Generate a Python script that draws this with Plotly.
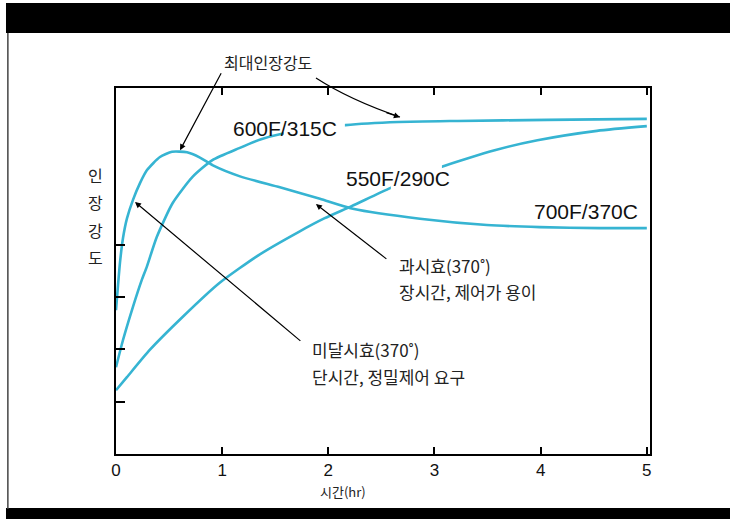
import plotly.graph_objects as go

# Aging time (hr) and relative tensile strength for each aging temperature
t_700 = [0, 0.019, 0.038, 0.066, 0.104, 0.160, 0.226, 0.292, 0.414, 0.527, 0.669,
         0.791, 0.913, 1.168, 1.544, 1.921, 2.232, 2.863, 3.494, 3.992, 4.557, 5.0]
s_700 = [2.75, 3.23, 3.67, 4.13, 4.51, 4.86, 5.18, 5.43, 5.68, 5.78, 5.77,
         5.67, 5.52, 5.31, 5.10, 4.88, 4.69, 4.50, 4.38, 4.34, 4.32, 4.32]

t_600 = [0, 0.066, 0.159, 0.243, 0.290, 0.384, 0.534, 0.721, 0.908, 1.161, 1.367,
         1.554, 2.163, 2.66, 3.22, 4.06, 5.0]
s_600 = [1.66, 2.18, 2.81, 3.33, 3.58, 4.15, 4.80, 5.30, 5.62, 5.85, 6.02,
         6.12, 6.29, 6.35, 6.37, 6.39, 6.41]

t_550 = [0, 0.103, 0.318, 0.627, 0.974, 1.348, 1.723, 1.966, 2.219, 2.566, 3.062,
         3.567, 3.97, 4.53, 5.0]
s_550 = [1.22, 1.47, 1.99, 2.62, 3.27, 3.81, 4.25, 4.51, 4.74, 5.07, 5.49,
         5.81, 6.00, 6.18, 6.27]

x_ticks = [0, 1, 2, 3, 4, 5]
y_ticks = [1, 2, 3, 4]
y_title_chars = ["인", "장", "강", "도"]

CURVE = "#36b4d2"
KR = "Noto Sans CJK KR, Noto Sans, sans-serif"
LAT = "Liberation Sans, Arial, sans-serif"
TXT = "#222"

fig = go.Figure()
for t, s in [(t_700, s_700), (t_600, s_600), (t_550, s_550)]:
    fig.add_trace(go.Scatter(x=t, y=s, mode="lines",
                             line=dict(color=CURVE, width=2.6, shape="spline", smoothing=0.6),
                             showlegend=False, hoverinfo="skip"))

ann = []
# curve labels
for txt, x, y in [("600F/315C", 1.591, 6.23), ("550F/290C", 2.655, 5.26), ("700F/370C", 4.426, 4.63)]:
    ann.append(dict(x=x, y=y, xref="x", yref="y", text=txt, showarrow=False,
                    xanchor="center", yanchor="middle",
                    font=dict(family=LAT, size=21, color="#111")))

# maximum tensile strength label and its straight leader
ann.append(dict(x=0.2846, y=1.071, xref="paper", yref="paper", text="최대인장강도", showarrow=False,
                xanchor="center", yanchor="middle",
                font=dict(family=KR, size=16, color=TXT)))
ann.append(dict(x=0.603, y=5.81, ax=0.998, ay=7.31, xref="x", yref="y", axref="x", ayref="y",
                text="", showarrow=True, arrowhead=2, arrowsize=1, arrowwidth=1.2, arrowcolor="black"))
# arrowhead closing the curved leader
ann.append(dict(x=2.674, y=6.44, ax=2.533, ay=6.54, xref="x", yref="y", axref="x", ayref="y",
                text="", showarrow=True, arrowhead=2, arrowsize=1, arrowwidth=1.2, arrowcolor="black"))

# over-aging note
for txt, y in [("과시효(370˚)", 3.60), ("장시간, 제어가 용이", 3.10)]:
    ann.append(dict(x=2.646, y=y, xref="x", yref="y", xanchor="left", yanchor="middle",
                    text=txt, showarrow=False, font=dict(family=KR, size=17, color=TXT)))
ann.append(dict(x=1.883, y=4.78, ax=2.561, ay=3.71, xref="x", yref="y", axref="x", ayref="y",
                text="", showarrow=True, arrowhead=2, arrowsize=1, arrowwidth=1.2, arrowcolor="black"))

# under-aging note
for txt, y in [("미달시효(370˚)", 1.99), ("단시간, 정밀제어 요구", 1.49)]:
    ann.append(dict(x=1.827, y=y, xref="x", yref="y", xanchor="left", yanchor="middle",
                    text=txt, showarrow=False, font=dict(family=KR, size=17, color=TXT)))
ann.append(dict(x=0.179, y=4.82, ax=1.751, ay=2.14, xref="x", yref="y", axref="x", ayref="y",
                text="", showarrow=True, arrowhead=2, arrowsize=1, arrowwidth=1.2, arrowcolor="black"))

# vertical y-axis title, one character per row
for i, ch in enumerate(y_title_chars):
    ann.append(dict(x=-0.0375, y=0.762 - i * 0.0745, xref="paper", yref="paper", text=ch,
                    xanchor="center", yanchor="middle",
                    showarrow=False, font=dict(family=KR, size=16, color=TXT)))

# x-axis title
ann.append(dict(x=0.425, y=-0.102, xref="paper", yref="paper", xanchor="center", yanchor="middle",
                text="시간(hr)", showarrow=False, font=dict(family=KR, size=13, color=TXT)))

shapes = [
    # white knock-outs where the curves pass behind their labels
    dict(type="rect", xref="x", yref="y", x0=1.582, x1=2.156, y0=6.04, y1=6.45,
         fillcolor="white", line=dict(width=0), layer="above"),
    dict(type="rect", xref="x", yref="y", x0=2.589, x1=3.07, y0=5.0, y1=5.62,
         fillcolor="white", line=dict(width=0), layer="above"),
    # curved leader from the maximum strength label
    dict(type="path", xref="paper", yref="paper",
         path="M 0.3745,1.0273 Q 0.4382,0.9672 0.5318,0.9208",
         line=dict(color="black", width=1.2)),
    # page frame: top and bottom bands, left rule
    dict(type="rect", xref="paper", yref="paper", x0=-0.206, x1=1.16, y0=1.150, y1=1.232,
         fillcolor="black", line=dict(width=0)),
    dict(type="rect", xref="paper", yref="paper", x0=-0.206, x1=1.16, y0=-0.18, y1=-0.1475,
         fillcolor="black", line=dict(width=0)),
    dict(type="line", xref="paper", yref="paper", x0=-0.2025, x1=-0.2025, y0=-0.15, y1=1.15,
         line=dict(color="#444", width=1.5)),
]

fig.update_layout(
    width=730, height=519,
    margin=dict(l=116, r=80, t=88, b=65),
    paper_bgcolor="white", plot_bgcolor="white",
    annotations=ann, shapes=shapes,
    xaxis=dict(range=[0, 5.03], tickvals=x_ticks, ticktext=[str(v) for v in x_ticks],
               ticks="inside", ticklen=7, tickwidth=1.5, tickcolor="black",
               showline=True, linecolor="black", linewidth=2, mirror="ticks",
               showgrid=False, zeroline=False,
               tickfont=dict(family="Liberation Sans Narrow, Liberation Sans, sans-serif", size=17, color="#111")),
    yaxis=dict(range=[0, 7], tickvals=y_ticks, showticklabels=False,
               ticks="inside", ticklen=9, tickwidth=1.5, tickcolor="black",
               showline=True, linecolor="black", linewidth=2, mirror=True,
               showgrid=False, zeroline=False),
)

fig.write_html("out.html")
